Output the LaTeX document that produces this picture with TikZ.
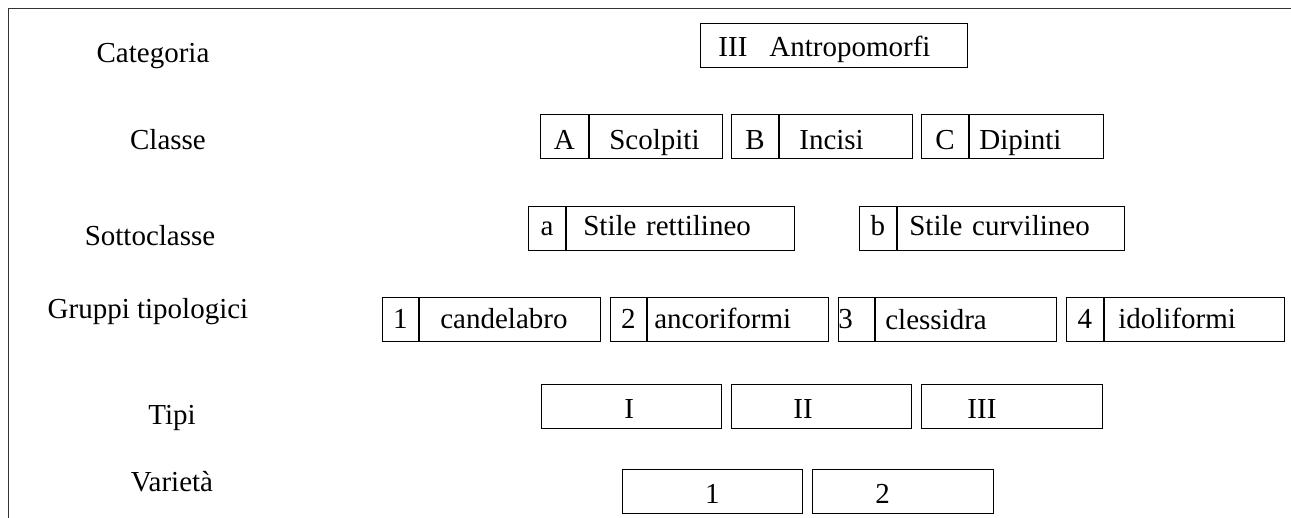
\documentclass[tikz,border=0pt]{standalone}
\usepackage{fontspec}
\setmainfont{Liberation Serif}
\newcommand\rowfont{\fontsize{29}{34}\selectfont}
\tikzset{
  cell/.style={draw, line width=0.9pt, inner sep=0pt, anchor=north west, text depth=0pt, font=\rowfont},
  lbl/.style={anchor=base, inner sep=0pt, font=\rowfont},
  frame/.style={draw=black!80, line width=1pt}
}
% #1 name, #2 x, #3 y, #4 left width, #5 right width, #6 right text width, #7 text height, #8 left text, #9 right text
\newcommand\pairbox[9]{%
  \node[cell, minimum width=#4pt, minimum height=44pt, text height=#7pt] (#1l) at (#2,#3) {#8};
  \node[cell, minimum width=#5pt, minimum height=44pt, text height=#7pt, align=left, text width=#6pt] (#1r) at (#1l.north east) {#9};
}
\begin{document}
\begin{tikzpicture}[x=1pt,y=-1pt]
\useasboundingbox (0,0) rectangle (1291,518);
\draw[frame] (8,518) -- (8,9) -- (1291,9);

% left labels
\node[lbl] (lcat) at (153,63) {Categoria};
\node[lbl] (lcla) at (168,150) {Classe};
\node[lbl] (lsot) at (150,246) {Sottoclasse};
\node[lbl] (lgru) at (148,319) {Gruppi tipologici};
\node[lbl] (ltip) at (172,425) {Tipi};
\node[lbl] (lvar) at (172,492) {Varietà};

% Categoria
\node[cell, minimum width=267pt, minimum height=44pt, text height=22pt, align=left, text width=231pt] (cat) at (700,23) {III\hspace{22pt}Antropomorfi};

% Classe
\pairbox{A}{540}{114}{48}{133}{93}{26}{A}{Scolpiti}
\pairbox{B}{731}{114}{47}{133}{93}{26}{B}{Incisi}
\pairbox{C}{921}{114}{47}{134}{114}{26}{C}{Dipinti}

% Sottoclasse
\pairbox{a}{528}{206}{37}{228}{194}{14}{a}{Stile rettilineo}
\pairbox{b}{859}{206}{37}{227}{203}{14}{b}{Stile curvilineo}

% Gruppi tipologici
\pairbox{g1}{382}{297}{36}{181}{139}{19}{1}{candelabro}
\pairbox{g2}{610}{297}{36}{181}{167}{19}{2}{ancoriformi}
\node[cell, minimum width=36pt, minimum height=44pt, text height=19pt, align=left, text width=36pt] (g3l) at (838,297) {3};
\node[cell, minimum width=181pt, minimum height=44pt, text height=21pt, align=left, text width=161pt] (g3r) at (g3l.north east) {clessidra};
\pairbox{g4}{1066}{297}{37}{180}{152}{19}{4}{idoliformi}

% Tipi
\node[cell, minimum width=180pt, minimum height=44pt, text height=24pt, align=left, text width=14pt] (t1) at (541,384) {I};
\node[cell, minimum width=180pt, minimum height=44pt, text height=24pt, align=left, text width=56pt] (t2) at (731,384) {II};
\node[cell, minimum width=181pt, minimum height=44pt, text height=24pt, align=left, text width=89pt] (t3) at (921,384) {III};

% Varietà
\node[cell, minimum width=180pt, minimum height=44pt, text height=24pt] (v1) at (622,469) {1};
\node[cell, minimum width=181pt, minimum height=44pt, text height=24pt, align=left, text width=55pt] (v2) at (812,469) {2};
\end{tikzpicture}
\end{document}
